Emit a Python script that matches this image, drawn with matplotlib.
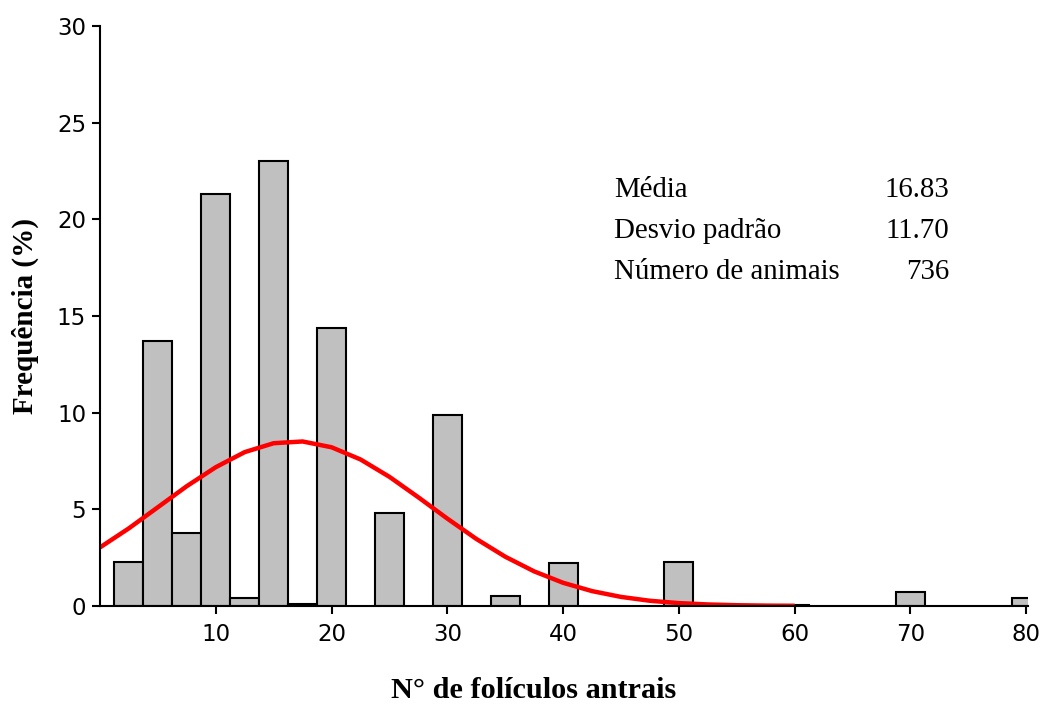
import numpy as np
import matplotlib
matplotlib.use("Agg")
import matplotlib.pyplot as plt

# ============================================================
# 数据
# ============================================================
BIN_CENTERS = [2.5, 5, 7.5, 10, 12.5, 15, 17.5, 20, 25, 30, 35, 40, 50, 60, 70, 80]
FREQ_PCT = [2.3, 13.7, 3.8, 21.3, 0.4, 23.0, 0.1, 14.4, 4.8, 9.9, 0.5, 2.2, 2.3, 0.05, 0.7, 0.4]
BIN_WIDTH = 2.5

# 正态拟合曲线 (读取的点)
CURVE_X = [0, 2.5, 5, 7.5, 10, 12.5, 15, 17.5, 20, 22.5, 25, 27.5, 30,
           32.5, 35, 37.5, 40, 42.5, 45, 47.5, 50, 52.5, 55, 57.5, 60]
CURVE_Y = [3.03, 4.02, 5.11, 6.20, 7.18, 7.96, 8.42, 8.51, 8.21, 7.58, 6.68, 5.62, 4.52,
           3.47, 2.55, 1.79, 1.20, 0.77, 0.47, 0.27, 0.15, 0.08, 0.04, 0.02, 0.01]

STAT_LABELS = ["Média", "Desvio padrão", "Número de animais"]
STAT_VALUES = ["16.83", "11.70", "736"]

X_TICKS = [10, 20, 30, 40, 50, 60, 70, 80]
Y_TICKS = [0, 5, 10, 15, 20, 25, 30]

W, H = 1043, 708
SERIF = "Liberation Serif"


def main():
    fig = plt.figure(figsize=(W / 100, H / 100), dpi=100)
    ax = fig.add_axes([100 / W, 1 - 606 / H, 928 / W, 580 / H])

    ax.bar(BIN_CENTERS, FREQ_PCT, width=BIN_WIDTH, color="#c0c0c0",
           edgecolor="black", linewidth=1.5, zorder=2)
    ax.plot(CURVE_X, CURVE_Y, color="#ff0000", lw=3.2, zorder=3,
            solid_capstyle="butt")

    ax.set_xlim(0, 80.15)
    ax.set_ylim(0, 30)
    ax.set_xticks(X_TICKS)
    ax.set_yticks(Y_TICKS)
    for s in ["top", "right"]:
        ax.spines[s].set_visible(False)
    for s in ["left", "bottom"]:
        ax.spines[s].set_linewidth(1.5)
        ax.spines[s].set_zorder(4)
    ax.tick_params(direction="out", length=6, width=1.5, labelsize=16.5)
    ax.tick_params(axis="x", pad=6)
    ax.tick_params(axis="y", pad=4)
    for lab in ax.get_xticklabels() + ax.get_yticklabels():
        lab.set_family("DejaVu Sans")

    # 统计信息
    for i, (lab, val) in enumerate(zip(STAT_LABELS, STAT_VALUES)):
        yb = 1 - (197 + 41 * i) / H
        fig.text(614 / W, yb, lab, family=SERIF, fontsize=20.8, va="baseline", ha="left")
        fig.text(949 / W, yb, val, family=SERIF, fontsize=20.8, va="baseline", ha="right")

    fig.text(25 / W, 1 - 316 / H, "Frequência (%)", family=SERIF, fontsize=21,
             fontweight="bold", rotation=90, ha="center", va="center")
    fig.text(534 / W, 1 - 690 / H, "N° de folículos antrais", family=SERIF,
             fontsize=21.8, fontweight="bold", ha="center", va="center")

    fig.savefig("out.png", dpi=100)
    plt.close(fig)


if __name__ == "__main__":
    main()
